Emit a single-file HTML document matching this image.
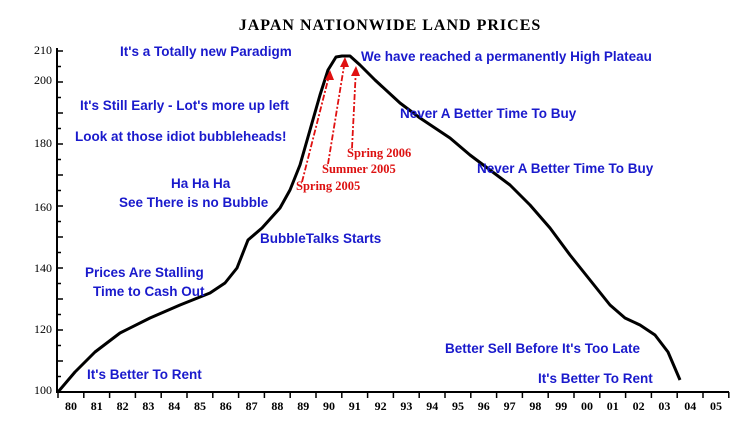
<!DOCTYPE html>
<html><head><meta charset="utf-8"><style>
body{margin:0;background:#fff}
svg{display:block}
.b{font-family:"Liberation Sans",sans-serif;font-weight:bold;font-size:13.5px;fill:#1a1acc}
.r{font-family:"Liberation Serif",serif;font-weight:bold;font-size:12.5px;fill:#dd1111}
.t{font-family:"Liberation Serif",serif;font-size:12px;font-weight:bold;fill:#000}
</style></head><body>
<svg width="745" height="428" viewBox="0 0 745 428">
<text x="390" y="30" text-anchor="middle" font-family="Liberation Serif,serif" font-weight="bold" font-size="16" letter-spacing="1">JAPAN NATIONWIDE LAND PRICES</text>
<g stroke="#000" stroke-width="2">
<line x1="57" y1="48" x2="57" y2="393"/>
<line x1="56" y1="392" x2="729" y2="392"/>
</g>
<g stroke="#000" stroke-width="1.5" id="yt"></g>
<g class="t" text-anchor="end" style="font-weight:normal">
<text x="52" y="54">210</text><text x="52" y="84">200</text><text x="52" y="147">180</text><text x="52" y="211">160</text><text x="52" y="272">140</text><text x="52" y="333">120</text><text x="52" y="394">100</text>
</g>
<g id="xt"></g>
<path fill="none" stroke="#000" stroke-width="3" stroke-linejoin="round" d="M58,392 L75,372 L95,352 L120,333 L150,318 L180,305 L210,293 L225,283 L237,268 L248,240 L262,228 L280,208 L290,190 L300,165 L310,130 L320,95 L328,70 L336,57 L342,56 L350,56 L360,65 L375,80 L400,103 L420,118 L450,138 L470,155 L490,170 L510,185 L530,205 L550,228 L570,255 L590,280 L610,305 L625,318 L640,325 L655,335 L668,352 L680,380"/>
<g stroke="#e01010" stroke-width="1.8" stroke-dasharray="6,2,2,2" fill="none">
<line x1="302" y1="182" x2="330" y2="72"/><line x1="328" y1="164" x2="345" y2="60"/><line x1="352" y1="148" x2="356" y2="68"/>
</g>
<g fill="#e01010"><path d="M330,70 l-5,10 h9z"/><path d="M345,57 l-5,10 h9z"/><path d="M356,66 l-5,10 h9z"/></g>
<g class="r"><text x="296" y="190">Spring 2005</text><text x="322" y="173">Summer 2005</text><text x="347" y="157">Spring 2006</text></g>
<g class="b">
<text x="120" y="56">It's a Totally new Paradigm</text>
<text x="361" y="61">We have reached a permanently High Plateau</text>
<text x="80" y="110">It's Still Early - Lot's more up left</text>
<text x="75" y="141">Look at those idiot bubbleheads!</text>
<text x="400" y="118">Never A Better Time To Buy</text>
<text x="477" y="173">Never A Better Time To Buy</text>
<text x="171" y="188">Ha Ha Ha</text>
<text x="119" y="207">See There is no Bubble</text>
<text x="260" y="243">BubbleTalks Starts</text>
<text x="85" y="277">Prices Are Stalling</text>
<text x="93" y="296">Time to Cash Out</text>
<text x="445" y="353">Better Sell Before It's Too Late</text>
<text x="87" y="379">It's Better To Rent</text>
<text x="538" y="383">It's Better To Rent</text>
</g>
<script>
var ns="http://www.w3.org/2000/svg",xt=document.getElementById("xt"),yt=document.getElementById("yt");
var yrs=["80","81","82","83","84","85","86","87","88","89","90","91","92","93","94","95","96","97","98","99","00","01","02","03","04","05"];
for(var i=0;i<=26;i++){var x=58+25.8*i;var l=document.createElementNS(ns,"line");l.setAttribute("x1",x);l.setAttribute("x2",x);l.setAttribute("y1",392);l.setAttribute("y2",398);l.setAttribute("stroke","#000");l.setAttribute("stroke-width","1.5");xt.appendChild(l);
if(i<26){var t=document.createElementNS(ns,"text");t.setAttribute("x",x+13);t.setAttribute("y",410);t.setAttribute("text-anchor","middle");t.setAttribute("class","t");t.textContent=yrs[i];xt.appendChild(t);}}
for(var v=100;v<=210;v+=5){var y=392-(v-100)*3.1;var l=document.createElementNS(ns,"line");l.setAttribute("x1",57);l.setAttribute("x2",v%10?61:63);l.setAttribute("y1",y);l.setAttribute("y2",y);yt.appendChild(l);}
</script>
</svg>
</body></html>
